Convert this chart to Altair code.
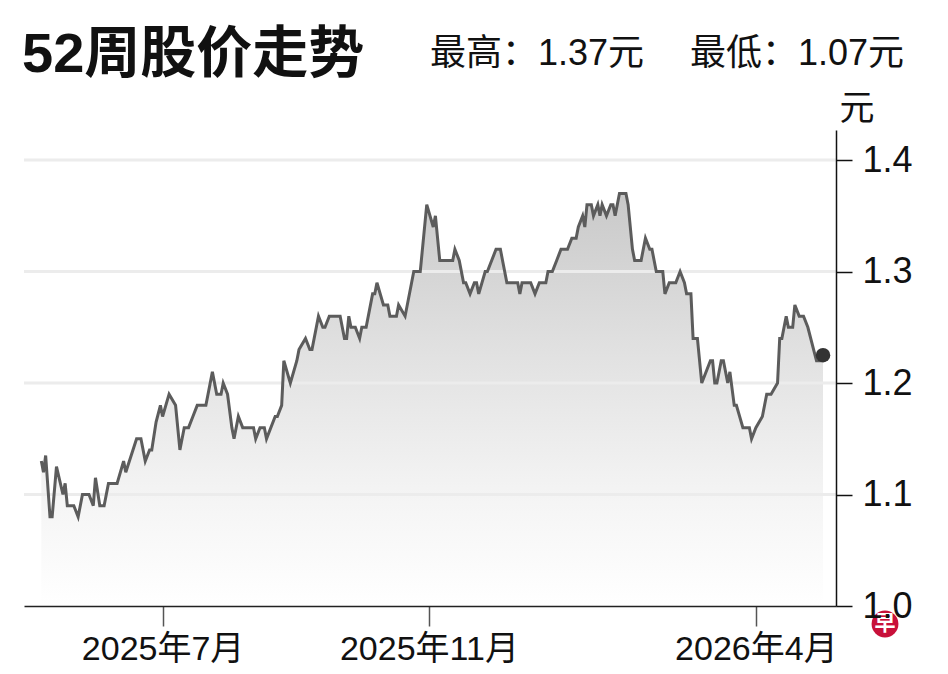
import altair as alt
import pandas as pd

# ---- text ----
TITLE = "52周股价走势"
HIGH_LABEL = "最高：1.37元"
LOW_LABEL = "最低：1.07元"
UNIT = "元"
LOGO = "早"

# ---- data ----
START = pd.Timestamp("2025-04-28")
DAY_OFFSETS = [
    8, 9, 10, 12, 13, 15, 18, 19, 20, 23,
    25, 27, 30, 32, 33, 35, 37, 39, 43, 46,
    47, 52, 54, 56, 58, 59, 61, 63, 64, 67,
    70, 72, 74, 76, 78, 80, 84, 87, 89, 91,
    92, 94, 96, 97, 99, 101, 106, 107, 109, 111,
    112, 116, 117, 119, 120, 123, 126, 127, 130, 132,
    133, 136, 138, 139, 141, 146, 148, 149, 150, 151,
    153, 155, 156, 158, 161, 162, 163, 166, 168, 169,
    172, 173, 176, 179, 180, 183, 186, 189, 190, 192,
    193, 198, 199, 201, 203, 204, 206, 208, 209, 210,
    213, 214, 218, 220, 221, 223, 228, 229, 230, 234,
    236, 238, 241, 242, 244, 246, 248, 251, 253, 255,
    256, 258, 259, 260, 262, 263, 265, 266, 267, 269,
    271, 272, 273, 275, 278, 279, 281, 282, 285, 287,
    289, 290, 292, 295, 296, 298, 301, 303, 305, 306,
    308, 309, 311, 313, 317, 318, 319, 320, 322, 323,
    325, 326, 328, 329, 332, 335, 336, 338, 341, 343,
    345, 348, 349, 350, 352, 353, 355, 356, 358, 360,
    362, 366, 368, 369,
]
PRICES = [
    1.13, 1.12, 1.135, 1.08, 1.08, 1.125, 1.10, 1.11, 1.09, 1.09,
    1.08, 1.10, 1.10, 1.09, 1.115, 1.09, 1.09, 1.11, 1.11, 1.13,
    1.12, 1.15, 1.15, 1.13, 1.14, 1.14, 1.165, 1.18, 1.17, 1.19,
    1.18, 1.14, 1.16, 1.16, 1.17, 1.18, 1.18, 1.21, 1.19, 1.19,
    1.20, 1.19, 1.16, 1.15, 1.17, 1.16, 1.16, 1.15, 1.16, 1.16,
    1.15, 1.17, 1.17, 1.18, 1.22, 1.20, 1.22, 1.23, 1.24, 1.23,
    1.23, 1.26, 1.25, 1.25, 1.26, 1.26, 1.24, 1.24, 1.26, 1.25,
    1.25, 1.24, 1.25, 1.25, 1.28, 1.28, 1.29, 1.27, 1.27, 1.26,
    1.26, 1.27, 1.26, 1.29, 1.30, 1.30, 1.36, 1.34, 1.35, 1.31,
    1.31, 1.31, 1.32, 1.31, 1.29, 1.29, 1.28, 1.29, 1.29, 1.28,
    1.30, 1.30, 1.32, 1.32, 1.31, 1.29, 1.29, 1.28, 1.29, 1.29,
    1.28, 1.29, 1.29, 1.30, 1.30, 1.31, 1.32, 1.32, 1.33, 1.33,
    1.34, 1.35, 1.34, 1.36, 1.36, 1.35, 1.36, 1.35, 1.36, 1.35,
    1.36, 1.36, 1.35, 1.37, 1.37, 1.36, 1.32, 1.31, 1.31, 1.33,
    1.32, 1.32, 1.30, 1.30, 1.28, 1.29, 1.29, 1.30, 1.29, 1.28,
    1.28, 1.24, 1.24, 1.20, 1.22, 1.22, 1.20, 1.20, 1.22, 1.22,
    1.20, 1.21, 1.18, 1.18, 1.16, 1.16, 1.15, 1.16, 1.17, 1.19,
    1.19, 1.20, 1.24, 1.24, 1.26, 1.25, 1.25, 1.27, 1.26, 1.26,
    1.25, 1.22, 1.22, 1.225,
]
X_TICKS = [(2025, 7), (2025, 11), (2026, 4)]
Y_TICKS = [1.0, 1.1, 1.2, 1.3, 1.4]
GRID_VALUES = [1.1, 1.2, 1.3, 1.4]
BASELINE = 1.0

assert len(DAY_OFFSETS) == len(PRICES)

dates = [(START + pd.Timedelta(days=d)).strftime("%Y-%m-%dT00:00:00") for d in DAY_OFFSETS]
df = pd.DataFrame({"date": dates, "price": PRICES, "i": list(range(len(PRICES)))})
last = df.tail(1)

NARROW = "'Liberation Sans Narrow', 'Liberation Sans', 'Noto Sans CJK SC', sans-serif"
MIXED = "'Liberation Sans', 'Noto Sans CJK SC', sans-serif"

x_scale = alt.Scale(domain=[alt.DateTime(year=2025, month=4, date=28),
                            alt.DateTime(year=2026, month=5, date=8)])
y_scale = alt.Scale(domain=[1.0, 1.427], zero=False, nice=False)

x_axis = alt.Axis(
    values=[alt.DateTime(year=y, month=m, date=1) for y, m in X_TICKS],
    labelExpr="year(datum.value) + '年' + (month(datum.value) + 1) + '月'",
    title=None, orient="bottom", grid=False,
    tickSize=20, tickColor="#555555", tickWidth=1.5,
    domainColor="#222222", domainWidth=1.5,
    labelFont=MIXED, labelFontSize=34, labelColor="#111111",
    labelPadding=6, labelBaseline="top", labelFlush=False, labelOverlap=False,
    zindex=1,
)
y_axis = alt.Axis(
    values=Y_TICKS, format=".1f", orient="right", grid=False,
    title=UNIT, titleAngle=0, titleAlign="left", titleBaseline="alphabetic",
    titleX=3, titleY=-11, titleFont=MIXED, titleFontSize=35,
    titleFontWeight="normal", titleColor="#111111",
    tickSize=16, tickColor="#111111", tickWidth=1.5,
    domainColor="#111111", domainWidth=1.5,
    labelFont=NARROW, labelFontSize=36, labelColor="#111111",
    labelPadding=10, labelAlign="left", labelBaseline="middle",
    zindex=1,
)

gradient = alt.Gradient(
    gradient="linear",
    stops=[
        alt.GradientStop(color="#c9c9c9", offset=0),
        alt.GradientStop(color="#e2e2e2", offset=0.4),
        alt.GradientStop(color="#f5f5f5", offset=0.75),
        alt.GradientStop(color="#ffffff", offset=1),
    ],
    x1=0, x2=0, y1=0, y2=1,
)

base = alt.Chart(df)
area = base.mark_area(color=gradient).encode(
    x=alt.X("date:T", scale=x_scale, axis=x_axis),
    y=alt.Y("price:Q", scale=y_scale, axis=y_axis),
    y2=alt.datum(BASELINE),
)

grid = alt.Chart(pd.DataFrame({"v": GRID_VALUES})).mark_rule(
    color="#ececec", strokeWidth=3
).encode(y=alt.Y("v:Q", scale=y_scale))

line = base.mark_line(color="#5c5c5c", strokeWidth=3).encode(
    x=alt.X("date:T", scale=x_scale),
    y=alt.Y("price:Q", scale=y_scale),
    order="i:Q",
)

dot = alt.Chart(last).mark_circle(size=210, color="#333333", opacity=1).encode(
    x=alt.X("date:T", scale=x_scale),
    y=alt.Y("price:Q", scale=y_scale),
)

def label(text, x, y, size, weight="normal"):
    return alt.Chart(pd.DataFrame({"t": [text]})).mark_text(
        align="left", baseline="alphabetic", font=MIXED,
        fontSize=size, fontWeight=weight, color="#111111",
    ).encode(text="t:N", x=alt.value(x), y=alt.value(y))

title = label(TITLE, -2, -58, 56, "bold")
high = label(HIGH_LABEL, 406, -65, 36)
low = label(LOW_LABEL, 666, -65, 36)

logo_circle = alt.Chart(pd.DataFrame({"t": [LOGO]})).mark_circle(
    size=720, color="#c8103a", opacity=1
).encode(x=alt.value(861), y=alt.value(494))
logo_text = alt.Chart(pd.DataFrame({"t": [LOGO]})).mark_text(
    font="Noto Sans CJK SC", fontSize=21, fontWeight="bold", color="#ffffff",
    align="center", baseline="middle",
).encode(text="t:N", x=alt.value(861), y=alt.value(494))

chart = alt.layer(
    area, grid, line, dot, title, high, low, logo_circle, logo_text
).properties(
    width=812, height=476,
    autosize=alt.AutoSizeParams(type="none"),
    padding={"left": 16, "top": 122, "right": 100, "bottom": 60},
    background="#ffffff",
).configure_view(stroke=None)

chart.save("out.html", embed_options={"renderer": "svg", "actions": False})
